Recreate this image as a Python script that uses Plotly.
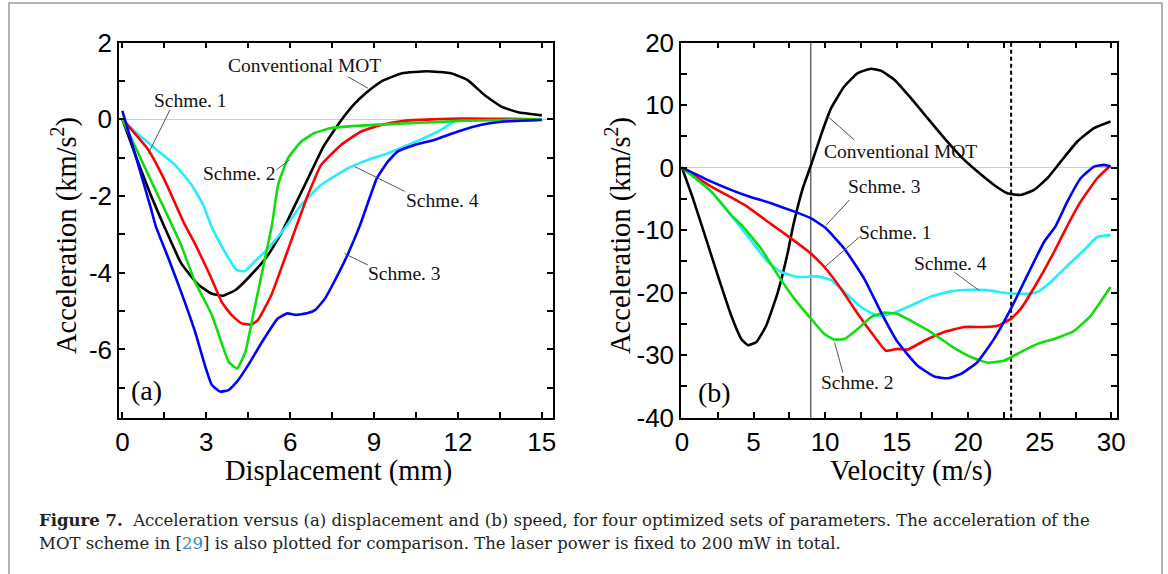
import plotly.graph_objects as go

# ---------------- data: panel (a) acceleration vs displacement ----------------
a_conv_x = [0, 0.5, 1.0, 1.5, 2.1, 2.7, 3.2, 3.6, 4.05, 4.6, 5.2, 5.7, 6.2, 6.7, 7.2, 7.8, 8.3, 8.7, 9.25, 10.0, 10.9, 11.75, 12.35, 12.95, 13.55, 14.15, 15.0]
a_conv_y = [0, -1.0, -1.95, -2.8, -3.75, -4.3, -4.55, -4.6, -4.45, -4.06, -3.55, -2.95, -2.2, -1.45, -0.7, -0.05, 0.4, 0.68, 0.98, 1.2, 1.25, 1.2, 1.02, 0.63, 0.33, 0.18, 0.1]

a_s1_x = [0, 0.93, 1.52, 2.2, 2.6, 3.13, 3.55, 3.9, 4.26, 4.62, 4.85, 5.33, 5.81, 6.22, 6.64, 7.11, 7.82, 8.54, 9.25, 10.08, 12.1, 15.0]
a_s1_y = [0, -0.8, -1.6, -2.7, -3.25, -4.06, -4.76, -5.1, -5.32, -5.35, -5.23, -4.58, -3.63, -2.8, -1.97, -1.19, -0.67, -0.32, -0.15, -0.04, 0.02, 0]

a_s2_x = [0, 0.5, 1.0, 1.8, 2.1, 2.6, 3.2, 3.8, 4.1, 4.4, 4.75, 5.1, 5.35, 5.57, 5.92, 6.4, 6.87, 7.47, 8.66, 10.44, 12.22, 15.0]
a_s2_y = [0, -0.78, -1.56, -2.8, -3.28, -4.24, -5.1, -6.32, -6.5, -6.06, -4.85, -3.63, -2.76, -1.71, -1.02, -0.58, -0.36, -0.23, -0.16, -0.1, -0.04, 0]

a_s3_x = [0, 0.5, 1.0, 1.2, 1.65, 2.1, 2.6, 2.95, 3.2, 3.5, 3.8, 4.1, 4.5, 5.0, 5.55, 5.9, 6.2, 6.6, 6.9, 7.25, 7.7, 8.05, 8.5, 9.1, 9.5, 9.85, 10.45, 11.15, 12.0, 12.8, 13.65, 15.0]
a_s3_y = [0.22, -1.02, -2.27, -2.8, -3.63, -4.5, -5.54, -6.41, -6.93, -7.1, -7.06, -6.84, -6.41, -5.8, -5.2, -5.06, -5.1, -5.06, -4.97, -4.67, -4.06, -3.54, -2.76, -1.54, -1.1, -0.84, -0.67, -0.54, -0.32, -0.15, -0.06, -0.02]

a_s4_x = [0, 0.45, 1.17, 1.88, 2.47, 2.89, 3.19, 3.66, 4.08, 4.38, 4.73, 5.21, 5.8, 6.4, 7.11, 8.06, 8.78, 9.49, 10.08, 10.8, 11.39, 11.87, 12.22, 15.0]
a_s4_y = [0, -0.32, -0.76, -1.19, -1.71, -2.23, -2.8, -3.45, -3.93, -3.96, -3.71, -3.37, -2.85, -2.23, -1.71, -1.28, -1.06, -0.89, -0.71, -0.49, -0.28, -0.06, -0.02, 0]

# ---------------- data: panel (b) acceleration vs velocity ----------------
b_conv_x = [0, 0.7, 1.4, 2.5, 3.44, 4.14, 4.6, 5.2, 5.88, 6.7, 7.4, 7.75, 8.44, 9.02, 9.72, 10.42, 11.35, 12.28, 13.2, 13.9, 14.84, 16.0, 17.16, 18.33, 19.49, 20.65, 21.81, 22.74, 23.67, 24.6, 25.53, 26.47, 27.63, 28.79, 29.95]
b_conv_y = [0, -4.5, -9.4, -17.25, -23.67, -27.4, -28.4, -27.9, -25.3, -19.9, -13.5, -9.5, -3.31, 0.43, 5.24, 9.5, 13.0, 15.1, 15.8, 15.5, 14.05, 11.1, 7.9, 4.7, 1.76, -0.64, -2.78, -4.11, -4.38, -3.58, -1.71, 0.96, 4.17, 6.3, 7.37]

b_s1_x = [0, 2.05, 4.37, 6.2, 7.67, 9.02, 9.95, 11.12, 12.05, 13.21, 14.26, 15.07, 15.77, 16.93, 18.33, 19.72, 21.12, 22.05, 22.98, 23.67, 24.84, 26.0, 26.93, 27.86, 29.02, 29.95]
b_s1_y = [0, -3.04, -5.98, -9.0, -11.4, -13.78, -15.9, -19.4, -22.6, -26.3, -29.3, -29.0, -29.1, -27.7, -26.3, -25.5, -25.5, -25.3, -24.2, -22.6, -18.3, -13.5, -9.3, -5.45, -1.71, 0.32]

b_s2_x = [0, 2.05, 3.44, 4.2, 5.53, 6.7, 7.86, 9.02, 9.95, 10.65, 11.35, 12.28, 13.21, 14.14, 15.07, 16.0, 17.4, 18.79, 20.19, 21.35, 22.5, 23.67, 24.84, 26.0, 27.4, 28.56, 29.95]
b_s2_y = [0, -3.85, -7.6, -9.3, -12.98, -17.2, -21.0, -24.2, -26.6, -27.5, -27.4, -25.8, -23.9, -23.2, -23.4, -24.5, -26.3, -28.5, -30.3, -31.2, -30.9, -29.5, -28.2, -27.4, -26.1, -23.7, -19.1]

b_s3_x = [0, 2.05, 4.37, 6.23, 7.86, 9.02, 10.0, 11.35, 12.74, 13.9, 15.07, 16.47, 17.63, 18.56, 19.49, 20.65, 21.81, 22.98, 24.14, 25.3, 26.1, 26.93, 27.86, 28.79, 29.5, 29.95]
b_s3_y = [0, -2.24, -4.38, -5.72, -7.05, -8.12, -9.6, -12.98, -17.8, -23.1, -27.9, -31.7, -33.4, -33.7, -33.0, -31.1, -27.4, -22.6, -17.2, -11.9, -9.4, -5.45, -1.71, 0.16, 0.43, 0.16]

b_s4_x = [0, 2.05, 3.91, 5.07, 6.0, 6.93, 8.09, 9.49, 10.42, 11.35, 12.51, 13.67, 14.6, 16.0, 17.4, 18.79, 20.19, 21.35, 22.74, 24.14, 24.84, 25.77, 26.93, 28.09, 29.02, 29.95]
b_s4_y = [0, -3.85, -9.0, -12.4, -15.1, -16.7, -17.5, -17.4, -18.0, -19.9, -22.3, -23.7, -23.4, -22.07, -20.6, -19.8, -19.55, -19.6, -20.1, -20.2, -19.9, -18.3, -15.7, -13.2, -11.1, -10.8]

# tick labels
a_xticks = [0, 3, 6, 9, 12, 15]
a_yticks = [2, 0, -2, -4, -6]
a_ytext = ["2", "0", "-2", "-4", "-6"]
b_xticks = [0, 5, 10, 15, 20, 25, 30]
b_yticks = [20, 10, 0, -10, -20, -30, -40]
b_ytext = ["20", "10", "0", "-10", "-20", "-30", "-40"]

colors = {"conv": "#000000", "s1": "#ff0000", "s2": "#10dd10", "s3": "#0000ff", "s4": "#22eeff"}

W, H = 1168, 574
fig = go.Figure()

def add(x, y, c, xa, ya):
    fig.add_trace(go.Scatter(x=x, y=y, mode="lines", xaxis=xa, yaxis=ya,
                             line=dict(color=c, width=2.6, shape="spline", smoothing=0.4),
                             showlegend=False, hoverinfo="skip"))

for key, xs, ys in [("conv", a_conv_x, a_conv_y), ("s4", a_s4_x, a_s4_y), ("s1", a_s1_x, a_s1_y),
                    ("s2", a_s2_x, a_s2_y), ("s3", a_s3_x, a_s3_y)]:
    add(xs, ys, colors[key], "x", "y")
for key, xs, ys in [("conv", b_conv_x, b_conv_y), ("s4", b_s4_x, b_s4_y), ("s1", b_s1_x, b_s1_y),
                    ("s2", b_s2_x, b_s2_y), ("s3", b_s3_x, b_s3_y)]:
    add(xs, ys, colors[key], "x2", "y2")

tickfont = dict(family="Liberation Sans, Arial", size=26, color="black")
common = dict(showline=True, linecolor="black", linewidth=1.5, mirror="ticks",
              ticks="inside", ticklen=6, tickwidth=1.5, tickcolor="black",
              showgrid=False, tickfont=tickfont, automargin=False)

def minor(step):
    return dict(ticks="inside", ticklen=6, tickwidth=1.5, tickcolor="black", dtick=step, tick0=0)

ydom = [1 - 417.7 / H, 1 - 42.5 / H]
fig.update_layout(
    width=W, height=H, margin=dict(l=0, r=0, t=0, b=0, autoexpand=False),
    paper_bgcolor="white", plot_bgcolor="white", showlegend=False,
    xaxis=dict(domain=[119 / W, 553 / W], range=[-0.12, 15.4], tickmode="array", tickvals=a_xticks,
               minor=minor(1.5), zeroline=False, anchor="y", **common),
    yaxis=dict(domain=ydom, range=[-7.78, 2], tickmode="array", tickvals=a_yticks, ticktext=a_ytext,
               minor=minor(1), zeroline=True, zerolinecolor="#cfcfcf", zerolinewidth=1, anchor="x", **common),
    xaxis2=dict(domain=[681 / W, 1117 / W], range=[-0.07, 30.4], tickmode="array", tickvals=b_xticks,
                minor=minor(2.5), zeroline=False, anchor="y2", **common),
    yaxis2=dict(domain=ydom, range=[-40, 20], tickmode="array", tickvals=b_yticks, ticktext=b_ytext,
                minor=minor(5), zeroline=True, zerolinecolor="#cfcfcf", zerolinewidth=1, anchor="x2", **common),
)

# axis titles (placed as text in page coordinates)
titlefont = dict(family="Liberation Serif, Times New Roman", size=28.5, color="black")
ytitle = "Acceleration (km/s<sup>2</sup>)"
for txt, px, py, ang in [("Displacement (mm)", 338, 471, 0), ("Velocity (m/s)", 911, 471, 0),
                         (ytitle, 65, 236, -90), (ytitle, 619, 236, -90)]:
    fig.add_annotation(text=txt, x=px / W, y=1 - py / H, xref="paper", yref="paper",
                       xanchor="center", yanchor="middle", textangle=ang, showarrow=False, font=titlefont)

# vertical reference lines in panel (b)
fig.add_shape(type="line", xref="x2", yref="y2 domain", x0=9, x1=9, y0=0, y1=1,
              line=dict(color="#444444", width=1.2), layer="below")
fig.add_shape(type="line", xref="x2", yref="y2 domain", x0=23, x1=23, y0=0, y1=1,
              line=dict(color="black", width=2, dash="4px,3px"), layer="below")

labfont = dict(family="Liberation Serif, Times New Roman", size=19.5, color="#111111")
leader = dict(color="#555555", width=1)

labels = [
    # (text, x, y, xref, yref, leader x0, y0, x1, y1)
    ("Conventional MOT", 6.52, 1.41, "x", "y", 8.06, 1.11, 8.78, 0.81),
    ("Schme. 1", 2.42, 0.50, "x", "y", 1.70, 0.24, 0.93, -0.89),
    ("Schme. 2", 4.20, -1.41, "x", "y", 5.51, -1.32, 5.98, -1.06),
    ("Schme. 4", 11.45, -2.12, "x", "y", 10.09, -1.88, 8.30, -1.23),
    ("Schme. 3", 10.09, -4.02, "x", "y", 8.78, -3.80, 7.94, -3.50),
    ("Conventional MOT", 15.30, 2.56, "x2", "y2", 12.05, 4.42, 10.19, 8.17),
    ("Schme. 3", 14.15, -3.04, "x2", "y2", 11.70, -5.19, 10.07, -9.20),
    ("Schme. 1", 14.95, -10.32, "x2", "y2", 12.40, -11.12, 9.96, -15.93),
    ("Schme. 4", 18.79, -15.38, "x2", "y2", 19.03, -16.73, 20.77, -19.66),
    ("Schme. 2", 12.28, -34.36, "x2", "y2", 11.24, -32.76, 10.66, -27.95),
]
for t, x, y, xr, yr, lx0, ly0, lx1, ly1 in labels:
    fig.add_annotation(text=t, x=x, y=y, xref=xr, yref=yr, showarrow=False, font=labfont)
    fig.add_shape(type="line", xref=xr, yref=yr, x0=lx0, y0=ly0, x1=lx1, y1=ly1, line=leader)

panfont = dict(family="Liberation Serif, Times New Roman", size=28, color="black")
fig.add_annotation(text="(a)", x=0.87, y=-7.06, xref="x", yref="y", showarrow=False, font=panfont)
fig.add_annotation(text="(b)", x=2.28, y=-35.96, xref="x2", yref="y2", showarrow=False, font=panfont)

capfont = dict(family="DejaVu Serif, Liberation Serif", size=16.5, color="#222222")
fig.add_annotation(text="<b>Figure 7.</b>  Acceleration versus (a) displacement and (b) speed, for four optimized sets of parameters. The acceleration of the",
                   x=37 / W, y=1 - 520 / H, xref="paper", yref="paper", xanchor="left", yanchor="middle",
                   showarrow=False, font=capfont)
fig.add_annotation(text="MOT scheme in [<span style='color:#2a8bd0'>29</span>] is also plotted for comparison. The laser power is fixed to 200 mW in total.",
                   x=37 / W, y=1 - 543 / H, xref="paper", yref="paper", xanchor="left", yanchor="middle",
                   showarrow=False, font=capfont)

# outer frame of the figure
fig.add_shape(type="rect", xref="paper", yref="paper", x0=9 / W, x1=1162 / W, y0=-0.05, y1=1 - 3 / H,
              line=dict(color="#9a9a9a", width=1.5), fillcolor="rgba(0,0,0,0)")

fig.write_html("out.html", config={"displayModeBar": False},
               post_script="document.body.style.margin='0px';document.body.style.padding='0px';")
